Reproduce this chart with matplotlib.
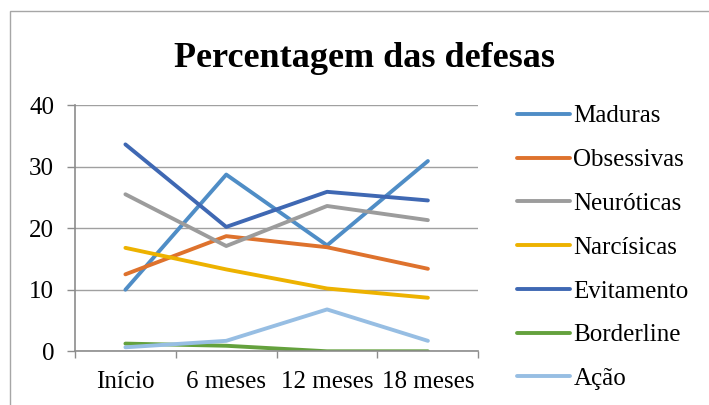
import matplotlib.pyplot as plt
from matplotlib.patches import Rectangle
import numpy as np

plt.rcParams['font.family'] = ['Liberation Serif', 'DejaVu Serif']

# dados
momentos = ['Início', '6 meses', '12 meses', '18 meses']
maduras = [10.0, 28.7, 17.2, 30.9]
obsessivas = [12.5, 18.7, 16.9, 13.4]
neuroticas = [25.5, 17.1, 23.6, 21.3]
narcisicas = [16.8, 13.3, 10.2, 8.7]
evitamento = [33.6, 20.2, 25.9, 24.5]
borderline = [1.25, 0.9, 0.0, 0.0]
acao = [0.65, 1.7, 6.8, 1.7]

series = [
    ('Maduras', maduras, '#4F8DC6'),
    ('Obsessivas', obsessivas, '#DE722D'),
    ('Neuróticas', neuroticas, '#9C9C9C'),
    ('Narcísicas', narcisicas, '#EDB200'),
    ('Evitamento', evitamento, '#3F68B3'),
    ('Borderline', borderline, '#64A13D'),
    ('Ação', acao, '#97BEE3'),
]

fig = plt.figure(figsize=(7.09, 4.05), dpi=100)
ax = fig.add_axes([75 / 709, 1 - 351.3 / 405, 403.3 / 709, 246.3 / 405])

x = np.arange(len(momentos))
for nome, vals, cor in series:
    ax.plot(x, vals, color=cor, lw=2.8, label=nome, solid_capstyle='round')

ax.set_xlim(-0.5, 3.5)
ax.set_ylim(0, 40)
ax.set_yticks([0, 10, 20, 30, 40])
ax.set_xticks(x)
ax.set_xticklabels(momentos)
ax.set_xticks(np.arange(-0.5, 4, 1), minor=True)
ax.grid(axis='y', color='#A0A0A0', lw=1)
ax.set_axisbelow(True)

for s in ['top', 'right']:
    ax.spines[s].set_visible(False)
for s in ['left', 'bottom']:
    ax.spines[s].set_color('#8C8C8C')
    ax.spines[s].set_linewidth(1.2)

ax.tick_params(axis='y', length=6, width=1, color='#8C8C8C', pad=9, labelsize=18)
ax.tick_params(axis='x', which='major', length=0, pad=14, labelsize=18)
ax.tick_params(axis='x', which='minor', length=5, width=1, color='#8C8C8C')

fig.text(365 / 709, 1 - 66.7 / 405, 'Percentagem das defesas', ha='center',
         va='baseline', fontsize=26, fontweight='bold')

ax.legend(loc='upper left', bbox_to_anchor=(517 / 709, 1 - 105 / 405),
          bbox_transform=fig.transFigure, frameon=False, fontsize=18,
          handlelength=2.1, handletextpad=0.15, labelspacing=0.85, borderpad=0,
          borderaxespad=0)

fig.patches.append(Rectangle((10 / 709, -0.1), 1.2, 1.1 - 11 / 405,
                             transform=fig.transFigure, fill=False,
                             edgecolor='#A6A6A6', lw=1))

fig.savefig('out.png', dpi=100)
